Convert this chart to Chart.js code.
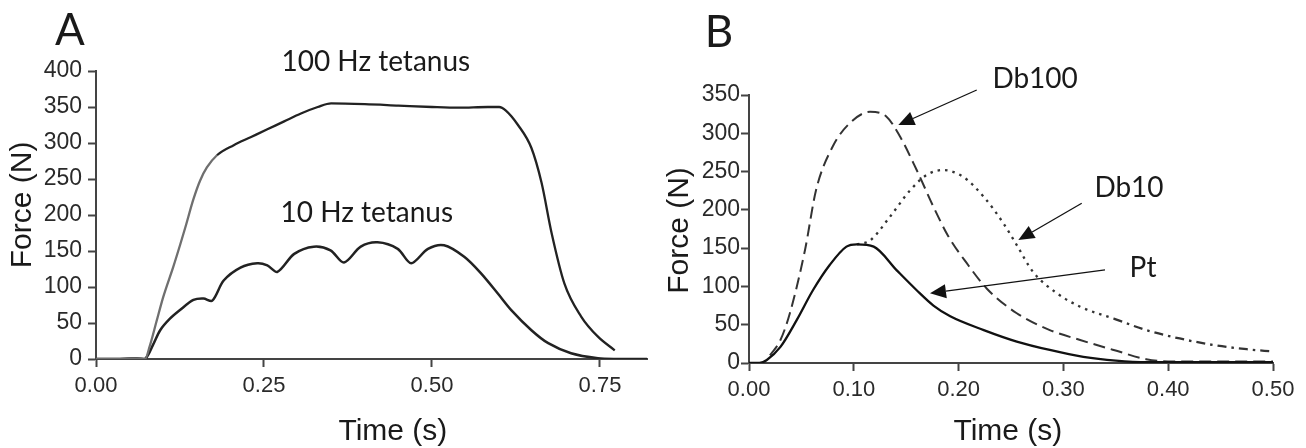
<!DOCTYPE html>
<html><head><meta charset="utf-8">
<script src="https://cdn.jsdelivr.net/npm/chart.js@4/dist/chart.umd.min.js"></script>
<style>
html,body{margin:0;padding:0;background:#fff;}
#wrap{position:relative;width:1306px;height:448px;overflow:hidden;}
#ca{position:absolute;left:0;top:0;}
#cb{position:absolute;left:660px;top:0;}
</style></head><body>
<div id="wrap">
<canvas id="ca" width="660" height="448"></canvas>
<canvas id="cb" width="646" height="448"></canvas>
</div>
<script>
// ---------- Panel A data ----------
const xTicksA = [0, 0.25, 0.5, 0.75];
const yTicksA = [0, 50, 100, 150, 200, 250, 300, 350, 400];
const timeA100 = [0, 0.03, 0.06, 0.073, 0.08, 0.09, 0.1, 0.115, 0.125, 0.133, 0.145, 0.155, 0.165, 0.18, 0.205, 0.23, 0.255, 0.28, 0.305, 0.33, 0.35, 0.4, 0.45, 0.5, 0.54, 0.583, 0.6, 0.61, 0.628, 0.648, 0.663, 0.678, 0.697, 0.722, 0.747, 0.772];
const forceA100 = [0, 0, 1, 0, 18, 52, 86, 128, 158, 183, 222, 248, 266, 283, 297, 308, 319, 330, 341, 350, 355, 354, 352, 350, 349, 350, 350, 345, 325, 293, 245, 175, 105, 59, 31, 12];
const timeA10 = [0, 0.03, 0.06, 0.073, 0.085, 0.0955, 0.11, 0.125, 0.145, 0.16, 0.173, 0.19, 0.215, 0.24, 0.255, 0.27, 0.295, 0.324, 0.349, 0.369, 0.394, 0.419, 0.449, 0.469, 0.494, 0.518, 0.548, 0.573, 0.598, 0.618, 0.648, 0.673, 0.707, 0.747, 0.775, 0.82];
const forceA10 = [0, 0, 1, 0, 20, 40, 56, 68, 82, 84, 81, 109, 127, 133, 130, 121, 146, 156, 151, 134, 156, 162, 153, 133, 153, 158, 142, 119, 91, 68, 40, 22, 8, 1, 0, 0];
const labelsA = ["100 Hz tetanus", "10 Hz tetanus"];

// ---------- Panel B data ----------
const xTicksB = [0, 0.1, 0.2, 0.3, 0.4, 0.5];
const yTicksB = [0, 50, 100, 150, 200, 250, 300, 350];
const timePt = [0, 0.01, 0.017, 0.03, 0.0455, 0.061, 0.077, 0.093, 0.103, 0.119, 0.141, 0.16, 0.176, 0.192, 0.224, 0.2555, 0.287, 0.319, 0.35, 0.38, 0.5];
const forcePt = [0, 0, 4, 21, 56, 95, 128, 152, 155, 152, 121, 95, 75, 61, 43, 28, 17, 8, 3, 1, 1];
const timeDb100 = [0.02, 0.03, 0.039, 0.0535, 0.064, 0.08, 0.096, 0.1155, 0.131, 0.144, 0.16, 0.176, 0.19, 0.208, 0.227, 0.2555, 0.287, 0.316, 0.348, 0.379, 0.4, 0.5];
const forceDb100 = [10, 30, 65, 148, 226, 283, 313, 328, 322, 296, 252, 204, 166, 130, 97, 65, 43, 30, 17, 5, 2, 2];
const timeDb10 = [0.103, 0.1155, 0.1345, 0.154, 0.17, 0.185, 0.2045, 0.224, 0.243, 0.2555, 0.271, 0.294, 0.316, 0.348, 0.379, 0.411, 0.443, 0.475, 0.5];
const forceDb10 = [155, 160, 191, 226, 246, 252, 243, 217, 182, 154, 119, 91, 73.5, 58, 43, 32, 23.5, 18, 15];
const labelsB = ["Db100", "Db10", "Pt"];

const pts = (t, f) => t.map((v, i) => ({x: v, y: f[i]}));

const TICK_FONT = '"Liberation Sans", Arial, sans-serif';
const NOTE_FONT = 'Lato, "Open Sans", sans-serif';

function axisCfg(min, max, ticksArr, fmt, size, pad, fit) {
  return {
    type: 'linear', min: min, max: max,
    afterBuildTicks: s => { s.ticks = ticksArr.map(v => ({value: v})); },
    afterFit: fit,
    ticks: { callback: fmt, font: {family: TICK_FONT, size: size}, color: '#2a2a2a', padding: pad, maxRotation: 0, autoSkip: false },
    grid: { display: true, drawOnChartArea: false, drawTicks: true, tickLength: 8, tickColor: '#444', tickWidth: 2 },
    border: { display: true, color: '#444', width: 2 }
  };
}

function arrow(ctx, x1, y1, x2, y2) {
  const ang = Math.atan2(y2 - y1, x2 - x1);
  const L = 16, W = 7;
  const bx = x2 - L * Math.cos(ang), by = y2 - L * Math.sin(ang);
  ctx.beginPath(); ctx.moveTo(x1, y1); ctx.lineTo(bx, by);
  ctx.lineWidth = 1.3; ctx.strokeStyle = '#111'; ctx.stroke();
  ctx.beginPath(); ctx.moveTo(x2, y2);
  ctx.lineTo(bx + W * Math.sin(ang), by - W * Math.cos(ang));
  ctx.lineTo(bx - W * Math.sin(ang), by + W * Math.cos(ang));
  ctx.closePath(); ctx.fillStyle = '#111'; ctx.fill();
}

function text(ctx, s, x, y, font, rot) {
  ctx.save(); ctx.translate(x, y); if (rot) ctx.rotate(rot);
  ctx.font = font; ctx.fillStyle = '#1a1a1a'; ctx.textAlign = 'center'; ctx.textBaseline = 'middle';
  ctx.fillText(s, 0, 0); ctx.restore();
}

const notesA = {
  id: 'notesA',
  afterDraw(chart) {
    const {ctx, scales: {x, y}, chartArea: ca} = chart;
    text(ctx, 'A', 70, 31, '44px ' + NOTE_FONT);
    text(ctx, labelsA[0], x.getPixelForValue(0.4164), y.getPixelForValue(413), '28px ' + NOTE_FONT);
    text(ctx, labelsA[1], x.getPixelForValue(0.403), y.getPixelForValue(203), '28px ' + NOTE_FONT);
    text(ctx, 'Time (s)', x.getPixelForValue(0.4418), ca.bottom + 73, '30px ' + TICK_FONT);
    text(ctx, 'Force (N)', 23, y.getPixelForValue(214), '30px ' + TICK_FONT, -Math.PI / 2);
  }
};

const notesB = {
  id: 'notesB',
  afterDraw(chart) {
    const {ctx, scales: {x, y}, chartArea: ca} = chart;
    const P = (t, f) => [x.getPixelForValue(t), y.getPixelForValue(f)];
    text(ctx, 'B', 59, 33, '44px ' + NOTE_FONT);
    let p = P(0.273, 371); text(ctx, labelsB[0], p[0], p[1], '28px ' + NOTE_FONT);
    p = P(0.3626, 228.5); text(ctx, labelsB[1], p[0], p[1], '28px ' + NOTE_FONT);
    p = P(0.376, 124); text(ctx, labelsB[2], p[0], p[1], '28px ' + NOTE_FONT);
    arrow(ctx, ...P(0.2173, 356.5), ...P(0.1425, 310.8));
    arrow(ctx, ...P(0.3175, 208.6), ...P(0.257, 160.6));
    arrow(ctx, ...P(0.3397, 121.5), ...P(0.1727, 91));
    text(ctx, 'Time (s)', x.getPixelForValue(0.247), ca.bottom + 69, '30px ' + TICK_FONT);
    text(ctx, 'Force (N)', 20, y.getPixelForValue(173), '30px ' + TICK_FONT, -Math.PI / 2);
  }
};

const common = {
  responsive: false, animation: false,
  plugins: { legend: {display: false}, tooltip: {enabled: false} },
  elements: { point: {radius: 0} }
};

new Chart(document.getElementById('ca'), {
  type: 'line',
  data: { datasets: [
    { label: labelsA[0], data: pts(timeA100, forceA100), borderColor: '#222', borderWidth: 2.3, cubicInterpolationMode: 'monotone',
      segment: { borderColor: c => c.p1.parsed.x <= 0.2 ? '#6f6f6f' : '#222' } },
    { label: labelsA[1], data: pts(timeA10, forceA10), borderColor: '#222', borderWidth: 2.5, tension: 0.3 }
  ]},
  options: Object.assign({}, common, {
    layout: { padding: {left: 0, top: 71, right: 13, bottom: 0} },
    scales: {
      x: axisCfg(0, 0.82, xTicksA, v => v.toFixed(2), 22, 6, s => { s.height = 89; }),
      y: axisCfg(0, 400, yTicksA, v => String(v), 23, 6, s => { s.width = 96; })
    }
  }),
  plugins: [notesA]
});

new Chart(document.getElementById('cb'), {
  type: 'line',
  data: { datasets: [
    { label: labelsB[2], data: pts(timePt, forcePt), borderColor: '#111', borderWidth: 2.3, cubicInterpolationMode: 'monotone' },
    { label: labelsB[0], data: pts(timeDb100, forceDb100), borderColor: '#333', borderWidth: 2, borderDash: [12, 6], cubicInterpolationMode: 'monotone' },
    { label: labelsB[1], data: pts(timeDb10, forceDb10), borderColor: '#333', borderWidth: 2.3, borderDash: [2.5, 5], cubicInterpolationMode: 'monotone',
      segment: { borderDash: c => c.p0.parsed.x >= 0.34 ? [9, 5, 2.5, 5] : [2.5, 5] } }
  ]},
  options: Object.assign({}, common, {
    layout: { padding: {left: 0, top: 95, right: 33, bottom: 0} },
    scales: {
      x: axisCfg(0, 0.5, xTicksB, v => v.toFixed(2), 22, 6, s => { s.height = 85; }),
      y: axisCfg(0, 350, yTicksB, v => String(v), 23, 1, s => { s.width = 89; })
    }
  }),
  plugins: [notesB]
});
</script>
</body></html>
